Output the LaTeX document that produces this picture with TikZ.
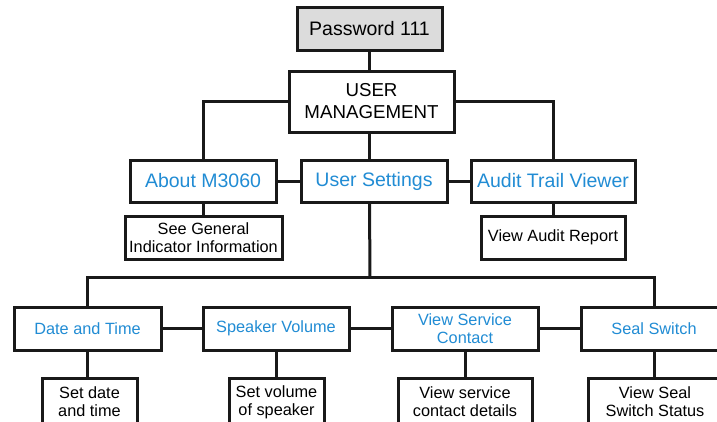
\documentclass[tikz,border=0pt]{standalone}
\usepackage{fontspec}
\setmainfont{Liberation Sans}
\definecolor{menublue}{RGB}{33,140,212}
\definecolor{pwgray}{RGB}{220,220,220}
\begin{document}
\begin{tikzpicture}[x=1pt,y=-1pt,
  box/.style={draw=black!90,line width=3pt,fill=white,inner sep=0pt,align=center,rectangle},
  bigtxt/.style={font=\fontsize{19.5}{22}\selectfont},
  smalltxt/.style={font=\fontsize{16.3}{18}\selectfont},
  menu/.style={text=menublue},
  conn/.style={draw=black!90,line width=3pt}]
\useasboundingbox (0,0) rectangle (717,421);
\clip (0,0) rectangle (717,421);
% nodes
\node[box,bigtxt,fill=pwgray,minimum width=145pt,minimum height=43pt] (pw) at (369.5,28.5) {Password 111};
\node[box,minimum width=165pt,minimum height=61pt,font=\fontsize{18.7}{22}\selectfont] (um) at (371.5,101.5) {USER\\MANAGEMENT};
\node[box,bigtxt,menu,minimum width=146pt,minimum height=42pt] (about) at (203,181) {About M3060};
\node[box,bigtxt,menu,minimum width=146pt,minimum height=42pt] (us) at (374,181) {User Settings};
\node[box,bigtxt,menu,minimum width=164pt,minimum height=42pt] (atv) at (553,181) {Audit Trail Viewer};
\node[box,smalltxt,minimum width=157pt,minimum height=43pt] (sg) at (203.5,237.5) {See General\\Indicator Information};
\node[box,smalltxt,minimum width=144pt,minimum height=43pt] (var) at (553,237.5) {View Audit Report};
\node[box,smalltxt,menu,minimum width=147pt,minimum height=43pt] (dt) at (87.5,328.5) {Date and Time};
\node[box,smalltxt,menu,minimum width=146pt,minimum height=43pt] (sv) at (276,328.5) {Speaker Volume};
\node[box,smalltxt,menu,minimum width=146pt,minimum height=43pt] (vsc) at (465,328.5) {View Service\\Contact};
\node[box,smalltxt,menu,minimum width=146pt,minimum height=43pt] (ss) at (654,328.5) {Seal Switch};
\node[box,smalltxt,minimum width=95pt,minimum height=48pt] (sdt) at (89.5,402) {Set date\\and time};
\node[box,smalltxt,minimum width=95pt,minimum height=48pt] (svs) at (276.5,402) {Set volume\\of speaker};
\node[box,smalltxt,minimum width=134pt,minimum height=48pt] (vscd) at (465,402) {View service\\contact details};
\node[box,smalltxt,minimum width=134pt,minimum height=48pt] (vsss) at (655,402) {View Seal\\Switch Status};
\coordinate (bus) at (370,277);
% connectors
\path[conn] (pw.south) -- (pw.south |- um.north);
\path[conn] (um.south -| pw.south) -- (us.north -| pw.south);
\path[conn] (um.west) -| (about.north);
\path[conn] (um.east) -| (atv.north);
\path[conn] (about.east) -- (us.west);
\path[conn] (us.east) -- (atv.west);
\path[conn] (about.south) -- (about.south |- sg.north);
\path[conn] (atv.south) -- (atv.south |- var.north);
\path[conn] (us.south -| pw.south) -- (bus);
\path[conn] (dt.north) |- (bus) -| (ss.north);
\path[conn] (dt.east) -- (sv.west);
\path[conn] (sv.east) -- (vsc.west);
\path[conn] (vsc.east) -- (ss.west);
\path[conn] (dt.south) -- (dt.south |- sdt.north);
\path[conn] (sv.south) -- (sv.south |- svs.north);
\path[conn] (vsc.south) -- (vsc.south |- vscd.north);
\path[conn] (ss.south) -- (ss.south |- vsss.north);
\end{tikzpicture}
\end{document}
